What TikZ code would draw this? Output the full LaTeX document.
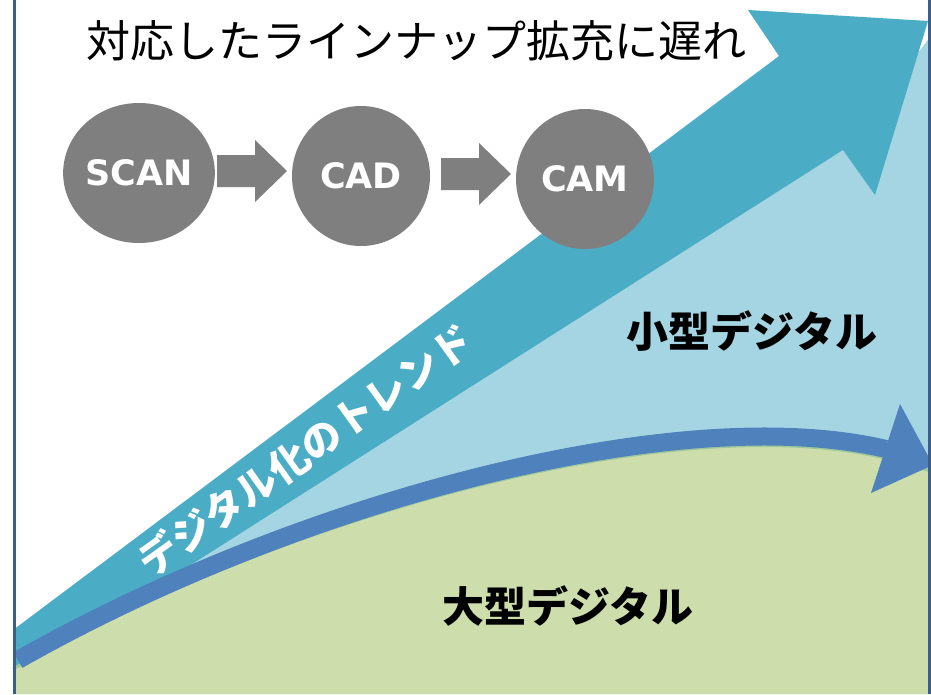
\documentclass[tikz,border=0pt]{standalone}
\usepackage{fontspec}
\newfontfamily\jp{Noto Sans CJK JP}
\newfontfamily\lat{DejaVu Sans}
\definecolor{teal1}{HTML}{4BACC6}
\definecolor{lblue}{HTML}{A5D5E2}
\definecolor{lgreen}{HTML}{CEDDAC}
\definecolor{dgreen}{HTML}{9EC89A}
\definecolor{cblue}{HTML}{4F81BD}
\definecolor{frame1}{HTML}{3A5F8C}
\definecolor{gray1}{HTML}{7F7F7F}
\tikzset{
  disc/.style={ellipse, fill=gray1, minimum width=138pt, minimum height=140pt, inner sep=0pt, text=white, font=\lat\bfseries\fontsize{35}{40}\selectfont},
  blockarrow/.style={fill=gray1},
  framel/.style={draw=frame1, line width=3pt},
  bigtext/.style={font=\jp\bfseries\fontsize{42}{46}\selectfont, text=black},
}
\usetikzlibrary{shapes.geometric}
\begin{document}
\begin{tikzpicture}[x=1pt,y=-1pt]
\useasboundingbox (0,0) rectangle (931,694);
\fill[white] (0,0) rectangle (931,694);
\begin{scope}
\clip (0,0) rectangle (931,694);
% light blue region
\fill[lblue] (13,672) -- (843,150) -- (931,36) -- (931,694) -- (13,694) -- cycle;
% teal trend arrow
\fill[teal1] (13,630) -- (779,56) -- (748,10) -- (928,21) -- (875,195) -- (843,150) -- (13,678) -- cycle;
% green region
\fill[lgreen] (13,669) .. controls (300,509) and (680,409) .. (885,458) -- (931,471) -- (931,694) -- (13,694) -- cycle;
\draw[dgreen, line width=3pt] (13,669) .. controls (300,509) and (680,409) .. (885,458) -- (931,471);
% blue curved arrow
\draw[cblue, line width=18pt] (18,660) .. controls (300,500) and (680,400) .. (886,449);
\fill[cblue] (900,404) -- (933,465) -- (871,493) -- cycle;
\end{scope}
% frame lines
\draw[framel] (14,0) -- (14,694);
\draw[framel] (929.5,0) -- (929.5,694);
% title
\node[font=\jp\fontsize{44}{48}\selectfont, text=black] (title) at (416,41) {対応したラインナップ拡充に遅れ};
% process circles
\node[disc] (scan) at (139,173) {SCAN};
\node[disc] (cad) at (361,176) {CAD};
\node[disc] (cam) at (585,179) {CAM};
\fill[blockarrow] (217,155) -- (255,155) -- (255,140) -- (287,171) -- (255,202) -- (255,187) -- (217,187) -- cycle;
\fill[blockarrow] (441,158) -- (479,158) -- (479,143) -- (511,174) -- (479,205) -- (479,190) -- (441,190) -- cycle;
% labels
\node[font=\jp\bfseries\fontsize{40}{44}\selectfont, text=white, rotate=35.5] (trend) at (305,450) {デジタル化のトレンド};
\node[bigtext] (small) at (752,331) {小型デジタル};
\node[bigtext] (large) at (568,606) {大型デジタル};
\end{tikzpicture}
\end{document}
